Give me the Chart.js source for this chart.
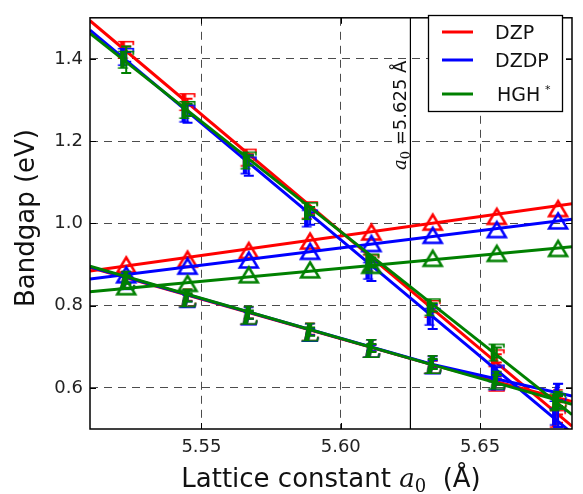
<!DOCTYPE html>
<html>
<head>
<meta charset="utf-8">
<script src="https://cdn.jsdelivr.net/npm/chart.js@4.4.1/dist/chart.umd.min.js"></script>
<style>
  html, body { margin: 0; padding: 0; background: #fff; }
</style>
</head>
<body>
<canvas id="gapChart" width="583" height="494"></canvas>
<script>
// lattice constants (Å) of the computed points
const latticeA = [5.523, 5.545, 5.567, 5.589, 5.611, 5.633, 5.656, 5.678];

// gap at Gamma (eV) with error bars
const dzpGamma     = [1.422, 1.295, 1.160, 1.032, 0.903, 0.792, 0.672, 0.525];
const dzdpGamma    = [1.405, 1.267, 1.141, 1.012, 0.885, 0.773, 0.635, 0.530];
const hghGamma     = [1.398, 1.276, 1.153, 1.030, 0.905, 0.796, 0.686, 0.565];
const dzpGammaErr  = [0.008, 0.008, 0.008, 0.008, 0.008, 0.008, 0.010, 0.010];
const dzdpGammaErr = [0.012, 0.022, 0.025, 0.015, 0.025, 0.030, 0.015, 0.025];
const hghGammaErr  = [0.032, 0.015, 0.012, 0.010, 0.012, 0.010, 0.012, 0.015];

// gap at L (eV)
const dzpL     = [0.863, 0.820, 0.777, 0.737, 0.697, 0.658, 0.615, 0.575];
const dzdpL    = [0.862, 0.818, 0.776, 0.736, 0.697, 0.657, 0.618, 0.590];
const hghL     = [0.863, 0.820, 0.778, 0.737, 0.697, 0.658, 0.620, 0.571];
const dzpLErr  = [0.008, 0.008, 0.008, 0.008, 0.008, 0.008, 0.008, 0.010];
const dzdpLErr = [0.008, 0.008, 0.008, 0.008, 0.008, 0.010, 0.010, 0.020];
const hghLErr  = [0.010, 0.010, 0.010, 0.010, 0.010, 0.012, 0.012, 0.015];

// gap at Delta (eV)
const dzpDelta  = [0.899, 0.913, 0.934, 0.957, 0.979, 1.003, 1.017, 1.036];
const dzdpDelta = [0.875, 0.896, 0.911, 0.932, 0.951, 0.971, 0.985, 1.006];
const hghDelta  = [0.846, 0.854, 0.875, 0.887, 0.898, 0.915, 0.927, 0.939];

// fitted curves
const fitX          = [5.51, 5.683];
const dzpGammaFit   = [1.493, 0.507];
const dzdpGammaFit  = [1.470, 0.490];
const hghGammaFit   = [1.462, 0.535];
const dzpDeltaFit   = [0.884, 1.048];
const dzdpDeltaFit  = [0.865, 1.010];
const hghDeltaFit   = [0.834, 0.943];
const lFitX         = [5.51, 5.633, 5.683];
const dzpLFit       = [0.893, 0.656, 0.567];
const dzdpLFit      = [0.894, 0.657, 0.580];
const hghLFit       = [0.896, 0.656, 0.560];

const a0Ref = 5.625;
const xTicks = [5.55, 5.60, 5.65];
const yTicks = [0.6, 0.8, 1.0, 1.2, 1.4];

const RED = '#ff0000', BLUE = '#0000ff', GREEN = '#008000';

function pts(xs, ys) { return xs.map((x, i) => ({ x: x, y: ys[i] })); }

// letter marker drawn into a small canvas, centred on its ink
function glyph(text, color, font) {
  const c = document.createElement('canvas');
  c.width = 32; c.height = 32;
  const g = c.getContext('2d');
  g.font = font;
  g.fillStyle = color;
  g.textAlign = 'center';
  g.textBaseline = 'alphabetic';
  const m = g.measureText(text);
  const dx = (m.actualBoundingBoxLeft - m.actualBoundingBoxRight) / 2;
  const dy = (m.actualBoundingBoxAscent - m.actualBoundingBoxDescent) / 2;
  g.fillText(text, 16 + dx, 16 + dy);
  return c;
}

function triangle(color) {
  const c = document.createElement('canvas');
  c.width = 32; c.height = 32;
  const g = c.getContext('2d');
  g.strokeStyle = color;
  g.lineWidth = 2.5;
  g.lineJoin = 'miter';
  g.beginPath();
  g.moveTo(16, 8.5);
  g.lineTo(25, 23.5);
  g.lineTo(7, 23.5);
  g.closePath();
  g.stroke();
  return c;
}

function markers(label, xs, ys, errs, style, color, order) {
  return {
    label: label, data: pts(xs, ys), errors: errs,
    pointStyle: style, pointRadius: 9, showLine: false,
    borderColor: color, backgroundColor: color, order: order
  };
}

function fitLine(label, xs, ys, color, order) {
  return {
    label: label, data: pts(xs, ys), showLine: true, pointRadius: 0,
    borderColor: color, borderWidth: 3, order: order
  };
}

const series = [
  { name: 'DZP',  color: RED,   order: 3, G: dzpGamma,  Ge: dzpGammaErr,  L: dzpL,  Le: dzpLErr,  D: dzpDelta,
    gFit: dzpGammaFit,  dFit: dzpDeltaFit,  lFit: dzpLFit },
  { name: 'DZDP', color: BLUE,  order: 2, G: dzdpGamma, Ge: dzdpGammaErr, L: dzdpL, Le: dzdpLErr, D: dzdpDelta,
    gFit: dzdpGammaFit, dFit: dzdpDeltaFit, lFit: dzdpLFit },
  { name: 'HGH',  color: GREEN, order: 1, G: hghGamma,  Ge: hghGammaErr,  L: hghL,  Le: hghLErr,  D: hghDelta,
    gFit: hghGammaFit,  dFit: hghDeltaFit,  lFit: hghLFit }
];

const datasets = [{
  label: 'a0', data: [{ x: a0Ref, y: 0.5 }, { x: a0Ref, y: 1.5 }],
  showLine: true, pointRadius: 0, borderColor: '#000', borderWidth: 1.2, order: 10
}];
series.forEach(s => {
  datasets.push(markers(s.name + ' G', latticeA, s.G, s.Ge, glyph('\u0393', s.color, 'bold 25px "DejaVu Serif"'), s.color, s.order));
  datasets.push(markers(s.name + ' L', latticeA, s.L, s.Le, glyph('L', s.color, 'bold italic 26px "DejaVu Serif"'), s.color, s.order));
  datasets.push(markers(s.name + ' D', latticeA, s.D, null, triangle(s.color), s.color, s.order));
  datasets.push(fitLine(s.name + ' G fit', fitX, s.gFit, s.color, s.order));
  datasets.push(fitLine(s.name + ' D fit', fitX, s.dFit, s.color, s.order));
  datasets.push(fitLine(s.name + ' L fit', lFitX, s.lFit, s.color, s.order));
});

const errorBars = {
  id: 'errorBars',
  afterDatasetDraw(chart, args) {
    const ds = chart.data.datasets[args.index];
    if (!ds.errors) return;
    const ys = chart.scales.y, ctx = chart.ctx, a = chart.chartArea;
    ctx.save();
    ctx.beginPath();
    ctx.rect(a.left, a.top, a.right - a.left, a.bottom - a.top);
    ctx.clip();
    ctx.strokeStyle = ds.borderColor;
    ctx.lineWidth = 2;
    args.meta.data.forEach((p, i) => {
      const e = ds.errors[i];
      const y0 = ys.getPixelForValue(ds.data[i].y - e);
      const y1 = ys.getPixelForValue(ds.data[i].y + e);
      ctx.beginPath();
      ctx.moveTo(p.x, y0); ctx.lineTo(p.x, y1);
      ctx.moveTo(p.x - 5, y0); ctx.lineTo(p.x + 5, y0);
      ctx.moveTo(p.x - 5, y1); ctx.lineTo(p.x + 5, y1);
      ctx.stroke();
    });
    ctx.restore();
  }
};

function drawParts(ctx, parts, x, y) {
  parts.forEach(p => {
    ctx.font = p.font;
    ctx.fillText(p.text, x, y + (p.dy || 0));
    x += ctx.measureText(p.text).width;
  });
}
function partsWidth(ctx, parts) {
  return parts.reduce((w, p) => { ctx.font = p.font; return w + ctx.measureText(p.text).width; }, 0);
}

const decorations = {
  id: 'decorations',
  afterDatasetsDraw(chart) {
    const ctx = chart.ctx, a = chart.chartArea;
    const xs = chart.scales.x, ys = chart.scales.y;
    ctx.save();

    // frame and inward ticks
    ctx.strokeStyle = '#000';
    ctx.lineWidth = 1.5;
    ctx.strokeRect(a.left, a.top, a.right - a.left, a.bottom - a.top);
    ctx.lineWidth = 1;
    ctx.beginPath();
    xTicks.forEach(v => {
      const px = Math.round(xs.getPixelForValue(v)) + 0.5;
      ctx.moveTo(px, a.bottom); ctx.lineTo(px, a.bottom - 6);
      ctx.moveTo(px, a.top); ctx.lineTo(px, a.top + 6);
    });
    yTicks.forEach(v => {
      const py = Math.round(ys.getPixelForValue(v)) + 0.5;
      ctx.moveTo(a.left, py); ctx.lineTo(a.left + 6, py);
      ctx.moveTo(a.right, py); ctx.lineTo(a.right - 6, py);
    });
    ctx.stroke();

    ctx.fillStyle = '#111';
    ctx.textBaseline = 'alphabetic';
    ctx.textAlign = 'left';

    // x title
    const xt = [
      { text: 'Lattice constant ', font: '26px "DejaVu Sans"' },
      { text: 'a', font: 'italic 26px "DejaVu Serif"' },
      { text: '0', font: '18px "DejaVu Serif"', dy: 5 },
      { text: '  (\u00C5)', font: '26px "DejaVu Sans"' }
    ];
    const cx = (a.left + a.right) / 2;
    drawParts(ctx, xt, cx - partsWidth(ctx, xt) / 2, 487);

    // y title
    ctx.save();
    ctx.translate(34, 218);
    ctx.rotate(-Math.PI / 2);
    ctx.font = '26px "DejaVu Sans"';
    ctx.textAlign = 'center';
    ctx.fillText('Bandgap (eV)', 0, 0);
    ctx.restore();

    // label along the reference lattice constant
    ctx.save();
    ctx.translate(xs.getPixelForValue(a0Ref) - 4, 170);
    ctx.rotate(-Math.PI / 2);
    drawParts(ctx, [
      { text: 'a', font: 'italic 18px "DejaVu Serif"' },
      { text: '0', font: '13px "DejaVu Serif"', dy: 4 },
      { text: ' =5.625 \u00C5', font: '18px "DejaVu Sans"' }
    ], 0, 0);
    ctx.restore();

    // legend
    ctx.fillStyle = '#fff';
    ctx.fillRect(428, 15, 134, 96);
    ctx.strokeStyle = '#000';
    ctx.lineWidth = 1.3;
    ctx.strokeRect(428.5, 15.5, 134, 96);
    const rows = [32, 60, 94];
    series.forEach((s, i) => {
      ctx.strokeStyle = s.color;
      ctx.lineWidth = 3;
      ctx.beginPath();
      ctx.moveTo(442, rows[i]); ctx.lineTo(473, rows[i]);
      ctx.stroke();
    });
    ctx.fillStyle = '#111';
    ctx.font = '19px "DejaVu Sans"';
    ctx.fillText('DZP', 495, rows[0] + 7);
    ctx.fillText('DZDP', 495, rows[1] + 7);
    ctx.fillText('HGH', 497, rows[2] + 7);
    ctx.font = '11px "DejaVu Sans"';
    ctx.fillText('*', 545, rows[2] - 1);

    ctx.restore();
  }
};

new Chart(document.getElementById('gapChart'), {
  type: 'scatter',
  data: { datasets: datasets },
  options: {
    responsive: false,
    animation: false,
    devicePixelRatio: 1,
    layout: { padding: { left: 0, right: 11, top: 6, bottom: 0 } },
    plugins: { legend: { display: false }, tooltip: { enabled: false } },
    scales: {
      x: {
        type: 'linear', min: 5.51, max: 5.683,
        afterBuildTicks: s => { s.ticks = xTicks.map(v => ({ value: v })); },
        afterFit: s => { s.height = 65; },
        ticks: {
          padding: 8, color: '#222', font: { family: 'DejaVu Sans', size: 18 },
          maxRotation: 0, callback: v => v.toFixed(2)
        },
        grid: { color: 'rgba(0,0,0,0.7)', lineWidth: 1, drawTicks: false },
        border: { display: false, dash: [8, 6] }
      },
      y: {
        type: 'linear', min: 0.5, max: 1.5,
        afterBuildTicks: s => { s.ticks = yTicks.map(v => ({ value: v })); },
        afterFit: s => { s.width = 90; },
        ticks: {
          padding: 7, color: '#222', font: { family: 'DejaVu Sans', size: 18 },
          callback: v => v.toFixed(1)
        },
        grid: { color: 'rgba(0,0,0,0.7)', lineWidth: 1, drawTicks: false },
        border: { display: false, dash: [8, 6] }
      }
    }
  },
  plugins: [errorBars, decorations]
});
</script>
</body>
</html>
